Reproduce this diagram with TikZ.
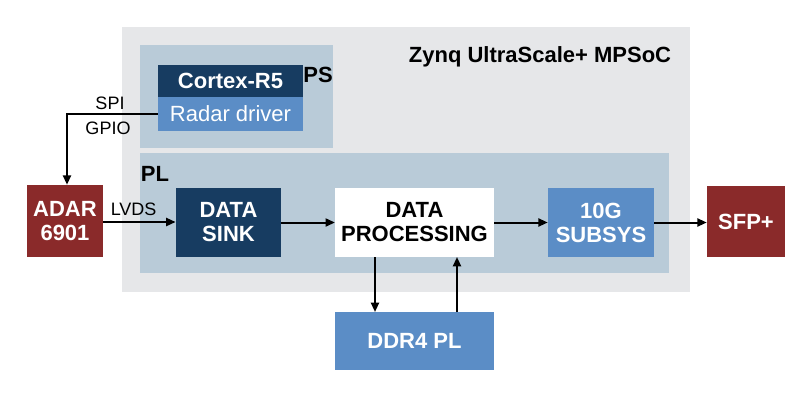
\documentclass[tikz,border=0pt]{standalone}
\usepackage{fontspec}
\setmainfont{Liberation Sans}
\usetikzlibrary{arrows.meta}
\definecolor{outer}{HTML}{E6E7E9}
\definecolor{psbg}{HTML}{B9CBD8}
\definecolor{navy}{HTML}{173C61}
\definecolor{mblue}{HTML}{5B8DC6}
\definecolor{dred}{HTML}{8A2A2A}
\begin{document}
\begin{tikzpicture}[x=0.75pt,y=-0.75pt,
  box/.style={draw=none,minimum width=#1,inner sep=0pt,align=center,font=\bfseries\fontsize{16.5}{18}\selectfont},
  arr/.style={-{Triangle[length=7pt,width=6pt]},line width=1.5pt},
  lab/.style={font=\fontsize{13.5}{15}\selectfont,inner sep=1pt}]
\useasboundingbox (0,0) rectangle (800,405);
\fill[white] (0,0) rectangle (800,405);
\fill[outer] (122,27) rectangle (690,292);
\fill[psbg] (140,45) rectangle (333,148);
\fill[psbg] (140,153) rectangle (669,273);
\node[font=\bfseries\fontsize{16.5}{18}\selectfont] (zynq) at (540,57) {Zynq UltraScale+ MPSoC};
\node[font=\bfseries\fontsize{16.5}{18}\selectfont] (ps) at (318,75) {PS};
\node[font=\bfseries\fontsize{16.5}{18}\selectfont] (pl) at (155,174) {PL};
\node[box,fill=navy,text=white,minimum width=109pt,minimum height=24pt] (cortex) at (230.5,81) {Cortex-R5};
\node[box,fill=mblue,text=white,minimum width=109pt,minimum height=25.5pt,font=\fontsize{16.5}{18}\selectfont] (radar) at (230.5,114) {Radar driver};
\node[box,fill=dred,text=white,minimum width=57pt,minimum height=54pt] (adar) at (65,221) {ADAR\\6901};
\node[box,fill=navy,text=white,minimum width=79pt,minimum height=52pt] (sink) at (228.5,222.5) {DATA\\SINK};
\node[box,fill=white,text=black,minimum width=119pt,minimum height=52pt] (proc) at (414.5,222.5) {DATA\\PROCESSING};
\node[box,fill=mblue,text=white,minimum width=79.5pt,minimum height=52pt] (tg) at (601,222.5) {10G\\SUBSYS};
\node[box,fill=dred,text=white,minimum width=58.5pt,minimum height=53pt] (sfp) at (746,221.5) {SFP+};
\node[box,fill=mblue,text=white,minimum width=119pt,minimum height=43.5pt] (ddr) at (414.5,341) {DDR4 PL};
\coordinate (corner) at (67,114);
\draw[arr] (radar.west) -- (corner) -- (adar.north -| corner);
\node[lab] (spi) at (110,103) {SPI};
\node[lab] (gpio) at (108,128) {GPIO};
\draw[arr] (adar.east |- 0,222) -- (sink.west |- 0,222) node[lab,pos=0.42,above=3pt] (lvds) {LVDS};
\draw[arr] (sink.east) -- (proc.west);
\draw[arr] (proc.east) -- (tg.west);
\draw[arr] (tg.east) -- (sfp.west |- tg.east);
\draw[arr] (375,257) -- (375,312);
\draw[arr] (457,312) -- (457,257);
\end{tikzpicture}
\end{document}
